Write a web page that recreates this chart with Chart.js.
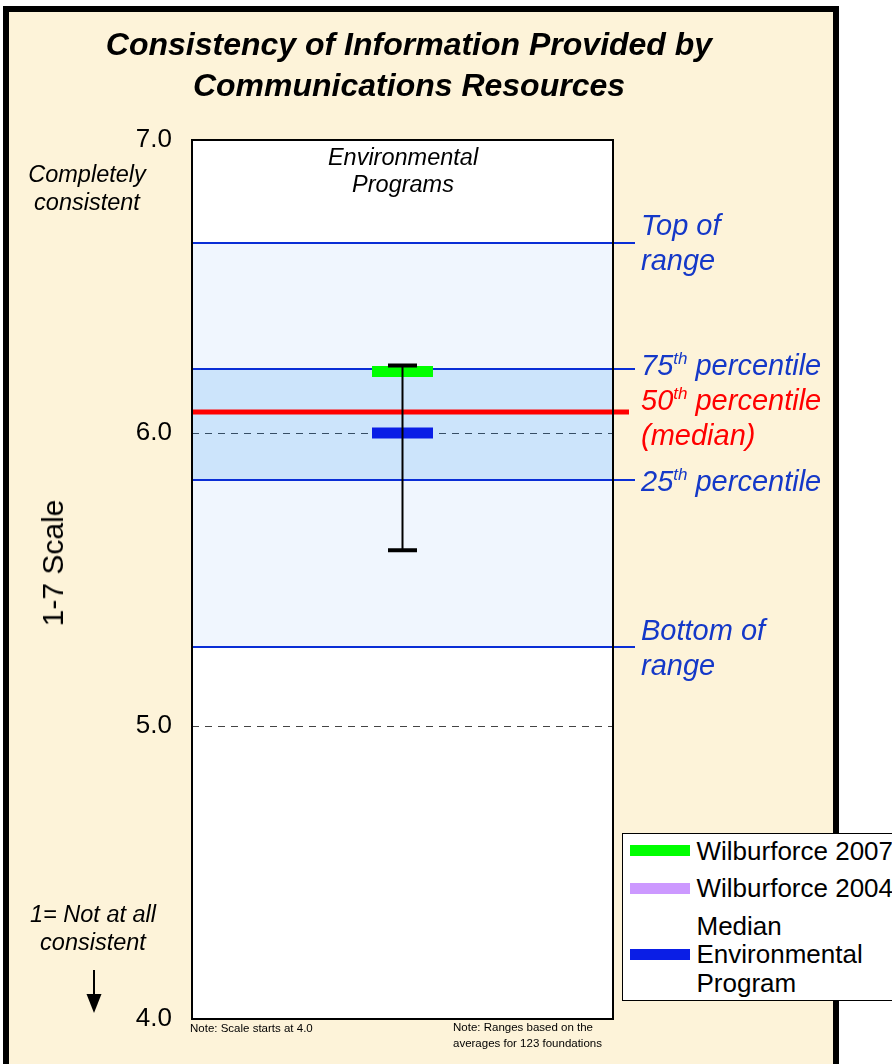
<!DOCTYPE html>
<html>
<head>
<meta charset="utf-8">
<script src="https://cdn.jsdelivr.net/npm/chart.js@4.4.1/dist/chart.umd.min.js"></script>
<style>
  html, body { margin: 0; padding: 0; width: 892px; height: 1064px; overflow: hidden; background: #fff;
    font-family: "Liberation Sans", Arial, sans-serif; }
  #panel { position: absolute; left: 3px; top: 6px; width: 836px; height: 1090px; box-sizing: border-box;
    border: 6px solid #000; background: #fdf3d9; }
  #chart { position: absolute; left: 0; top: 0; }
  .txt { position: absolute; white-space: nowrap; color: #000; }
  #title { left: 0; width: 818px; top: 24px; text-align: center; font-weight: bold; font-style: italic;
    font-size: 32px; line-height: 41px; }
  #topNote { left: 17px; width: 140px; top: 160px; text-align: center; font-style: italic; font-size: 23.5px; line-height: 28px; }
  #bottomNote { left: 23px; width: 140px; top: 900px; text-align: center; font-style: italic; font-size: 23.5px; line-height: 28px; }
  #axisTitle { left: 53px; top: 563px; font-size: 30px; line-height: 36px;
    transform: translate(-50%, -50%) rotate(-90deg); }
  #arrow { position: absolute; left: 86px; top: 970px; }
  #catLabel { left: 253px; width: 300px; top: 144px; text-align: center; font-style: italic; font-size: 23.5px; line-height: 27px; }
  .note { font-size: 11.5px; line-height: 16px; }
  #note1 { left: 190px; top: 1020px; }
  #note2 { left: 453px; top: 1019px; }
  #legend { position: absolute; left: 622px; top: 833px; width: 300px; height: 168px; box-sizing: border-box;
    border: 1.5px solid #000; background: #fff; padding: 2.5px 0 0 6.5px; }
  .item { display: flex; align-items: center; margin-bottom: 9px; }
  .swatch { width: 60px; height: 11px; margin-right: 7px; flex: none; }
  .label { font-size: 26px; line-height: 28.5px; white-space: pre; }
</style>
</head>
<body>
<div id="panel"></div>
<canvas id="chart" width="892" height="1064"></canvas>
<div class="txt" id="title">Consistency of Information Provided by<br>Communications Resources</div>
<div class="txt" id="topNote">Completely<br>consistent</div>
<div class="txt" id="bottomNote">1= Not at all<br>consistent</div>
<div class="txt" id="axisTitle">1-7 Scale</div>
<svg id="arrow" width="16" height="46" viewBox="0 0 16 46">
  <line x1="8" y1="0" x2="8" y2="26" stroke="#000" stroke-width="2"/>
  <polygon points="0.5,24 15.5,24 8,43" fill="#000"/>
</svg>
<div class="txt" id="catLabel"></div>
<div class="txt note" id="note1">Note: Scale starts at 4.0</div>
<div class="txt note" id="note2">Note: Ranges based on the<br>averages for 123 foundations</div>
<div id="legend"></div>

<script>
// values (1-7 scale, axis shown from 4 to 7)
const categories = ['Environmental Programs'];
const yTicks = [4, 5, 6, 7];
const rangeBottomTop = [5.27, 6.65];
const quartiles = [5.84, 6.22]; // 25th, 75th
const medianAll = [6.07];
const wilburforce2007 = [6.21];
const wilburforce2004 = [null];
const medianEnvProgram = [6.00];
const errorLowHigh = [5.60, 6.23];
const legendText = ['Wilburforce 2007', 'Wilburforce 2004', 'Median\nEnvironmental\nProgram'];

const BLUE_TXT = '#1438c8';
const FONT = '"Liberation Sans", Arial, sans-serif';

document.getElementById('catLabel').innerHTML = categories[0].split(' ').join('<br>');

const rangeLabels = [
  { value: rangeBottomTop[1], lines: ['Top of', 'range'], color: BLUE_TXT, dy: 0 },
  { value: quartiles[1], lines: ['75^th^ percentile'], color: BLUE_TXT, dy: -4 },
  { value: medianAll[0], lines: ['50^th^ percentile', '(median)'], color: '#ff0000', dy: 5 },
  { value: quartiles[0], lines: ['25^th^ percentile'], color: BLUE_TXT, dy: 1 },
  { value: rangeBottomTop[0], lines: ['Bottom of', 'range'], color: BLUE_TXT, dy: 1 }
];

// draw "75^th^ percentile" with the part between ^ raised and smaller
const drawRich = (ctx, text, x, baseline) => {
  const parts = text.split('^');
  parts.forEach((p, i) => {
    if (i % 2 === 1) {
      ctx.font = `italic 17px ${FONT}`;
      ctx.fillText(p, x, baseline - 11);
    } else {
      ctx.font = `italic 29px ${FONT}`;
      ctx.fillText(p, x, baseline);
    }
    x += ctx.measureText(p).width;
  });
};

const rangePlugin = {
  id: 'rangePlugin',
  beforeDraw(chart) {
    const a = chart.chartArea, ctx = chart.ctx;
    ctx.save();
    ctx.fillStyle = '#fff';
    ctx.fillRect(a.left, a.top, a.right - a.left, a.bottom - a.top);
    ctx.restore();
  },
  afterDatasetDraw(chart, args) {
    if (args.index !== 1) return; // right after the quartile band
    const y = chart.scales.y, a = chart.chartArea, ctx = chart.ctx;
    ctx.save();
    ctx.lineWidth = 2;
    ctx.strokeStyle = '#0a2ed6';
    [rangeBottomTop[0], quartiles[0], quartiles[1], rangeBottomTop[1]].forEach(v => {
      const py = Math.round(y.getPixelForValue(v));
      ctx.beginPath();
      ctx.moveTo(a.left, py);
      ctx.lineTo(a.right + 22, py);
      ctx.stroke();
    });
    ctx.lineWidth = 5;
    ctx.strokeStyle = '#ff0000';
    const pm = Math.round(y.getPixelForValue(medianAll[0]));
    ctx.beginPath();
    ctx.moveTo(a.left, pm);
    ctx.lineTo(a.right + 16, pm);
    ctx.stroke();
    ctx.restore();
  },
  afterDatasetsDraw(chart) {
    const y = chart.scales.y, a = chart.chartArea, ctx = chart.ctx;
    ctx.save();
    ctx.lineWidth = 2;
    ctx.strokeStyle = '#000';
    ctx.strokeRect(a.left, a.top, a.right - a.left, a.bottom - a.top);

    ctx.textAlign = 'left';
    ctx.textBaseline = 'alphabetic';
    const lineH = 35;
    rangeLabels.forEach(lab => {
      const c = y.getPixelForValue(lab.value) + lab.dy;
      ctx.fillStyle = lab.color;
      lab.lines.forEach((t, i) => {
        const lc = c - (lab.lines.length - 1) * lineH / 2 + i * lineH;
        drawRich(ctx, t, a.right + 28, lc + 10);
      });
    });
    ctx.restore();
  }
};

const datasets = [
  {
    type: 'bar', label: 'Range', data: [rangeBottomTop],
    backgroundColor: 'rgba(0,100,245,0.059)', borderWidth: 0,
    grouped: false, barPercentage: 1, categoryPercentage: 1, order: 10
  },
  {
    type: 'bar', label: 'Quartiles', data: [quartiles],
    backgroundColor: 'rgba(0,126,238,0.15)', borderWidth: 0,
    grouped: false, barPercentage: 1, categoryPercentage: 1, order: 9
  },
  {
    type: 'line', label: legendText[0], legend: legendText[0], data: wilburforce2007,
    showLine: false, pointStyle: 'line', pointRadius: 30.5, pointBorderWidth: 11,
    borderColor: '#00ff00', pointBorderColor: '#00ff00', order: 4
  },
  {
    type: 'line', label: legendText[1], legend: legendText[1], data: wilburforce2004,
    showLine: false, pointStyle: 'line', pointRadius: 30.5, pointBorderWidth: 11,
    borderColor: '#cc99ff', pointBorderColor: '#cc99ff', order: 3
  },
  {
    type: 'line', label: 'Median Environmental Program', legend: legendText[2], data: medianEnvProgram,
    showLine: false, pointStyle: 'line', pointRadius: 30.5, pointBorderWidth: 11,
    borderColor: '#0a1ee6', pointBorderColor: '#0a1ee6', order: 2
  },
  {
    type: 'line', label: 'Range of answers',
    data: errorLowHigh.map(v => ({ x: categories[0], y: v })),
    borderColor: '#000', borderWidth: 2, pointStyle: 'line', pointRadius: 14.5,
    pointBorderWidth: 4, pointBorderColor: '#000', order: 1
  }
];

const chart = new Chart(document.getElementById('chart'), {
  type: 'bar',
  data: { labels: categories, datasets: datasets },
  options: {
    responsive: false,
    animation: false,
    events: [],
    layout: { padding: { left: 20, right: 279, top: 140, bottom: 45 } },
    plugins: { legend: { display: false }, tooltip: { enabled: false } },
    scales: {
      x: { type: 'category', display: false, offset: true },
      y: {
        min: 4, max: 7,
        afterBuildTicks: s => { s.ticks = yTicks.map(v => ({ value: v })); },
        afterFit: s => { s.width = 172; },
        ticks: {
          padding: 20, color: '#000',
          font: { family: FONT, size: 26 },
          callback: v => Number(v).toFixed(1)
        },
        grid: {
          drawTicks: false, lineWidth: 1,
          color: c => (c.tick && (c.tick.value === 5 || c.tick.value === 6)) ? '#444' : 'rgba(0,0,0,0)'
        },
        border: { display: false, dash: [7, 6] }
      }
    }
  },
  plugins: [rangePlugin]
});

// legend built from the datasets that carry a legend text
const legendEl = document.getElementById('legend');
chart.data.datasets.filter(d => d.legend).forEach(d => {
  const row = document.createElement('div');
  row.className = 'item';
  row.innerHTML = `<div class="swatch" style="background:${d.borderColor}"></div><div class="label">${d.legend}</div>`;
  legendEl.appendChild(row);
});
</script>
</body>
</html>
